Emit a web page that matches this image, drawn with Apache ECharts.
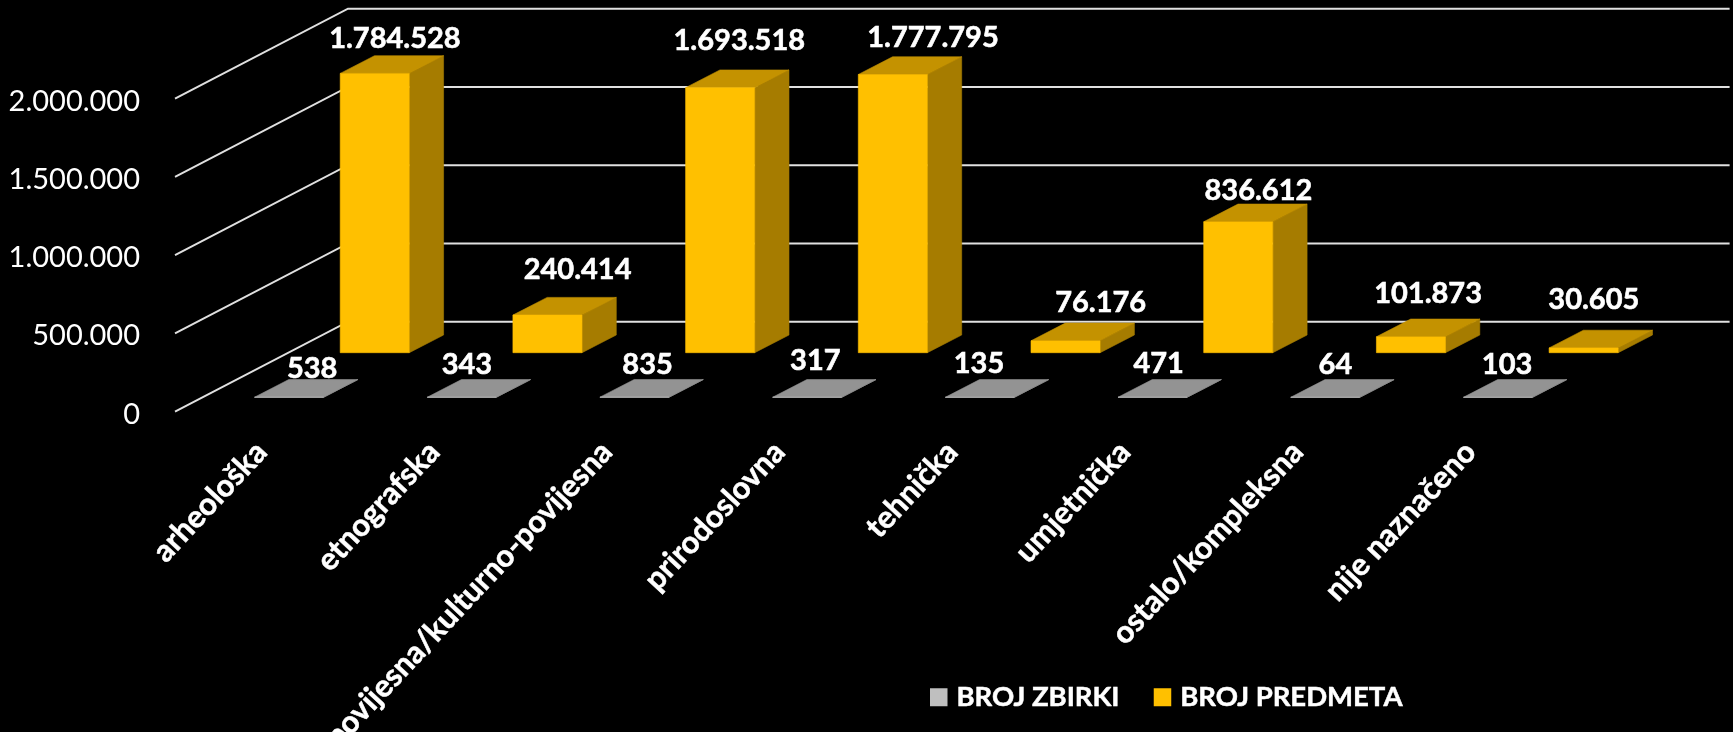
<!DOCTYPE html>
<html>
<head>
<meta charset="utf-8">
<style>html,body{margin:0;padding:0;background:#000}#c{width:1733px;height:732px}</style>
<script src="https://cdn.jsdelivr.net/npm/echarts@6/dist/echarts.min.js"></script>
</head>
<body>
<div id="c"></div>
<script>
var categories = ['arheološka','etnografska','povijesna/kulturno-povijesna','prirodoslovna','tehnička','umjetnička','ostalo/kompleksna','nije naznačeno'];
var brojZbirki = [538,343,835,317,135,471,64,103];
var brojPredmeta = [1784528,240414,1693518,1777795,76176,836612,101873,30605];
var tickValues = [0,500000,1000000,1500000,2000000];

// label placement tweaks (px), separate from the data
var zbirkiNudge = [[6,-20],[-12,-24],[-4,-24],[-9,-28],[-18,-25],[-11,-25],[-7,-24],[-8,-24]];
var predmetaNudge = [[3,-17],[13,-28],[2,-29],[23,-19],[18,-20],[3,-13],[0,-25],[-7,-31]];

var WALL = {dx:173, dy:-90};
var BAR = {dx:34.3, dy:-17.7};
var ROW_GRAY = {dx:27.7, dy:-14.4};
var ROW_GOLD = {dx:113.4, dy:-59};
var FONT_BOLD = 'bold 29px Lato';
function fmt(v){return String(v).replace(/\B(?=(\d{3})+$)/g,'.');}

function poly(pts, fill){
  return {type:'polygon', shape:{points:pts}, style:{fill:fill, stroke:fill, lineWidth:0.6}};
}
function bar3d(row, cols, nudge){
  return function(params, api){
    var i = api.value(0), v = api.value(1);
    var top = api.coord([i, v]), base = api.coord([i, 0]);
    var w = api.size([1,0])[0]*0.4;
    var x0 = top[0]-w/2+row.dx, x1 = x0+w;
    var yb = base[1]+row.dy, yt = top[1]+row.dy;
    var d = BAR;
    var n = nudge[params.dataIndex];
    return {type:'group', children:[
      poly([[x1,yb],[x1+d.dx,yb+d.dy],[x1+d.dx,yt+d.dy],[x1,yt]], cols.side),
      poly([[x0,yt],[x1,yt],[x1+d.dx,yt+d.dy],[x0+d.dx,yt+d.dy]], cols.top),
      poly([[x0,yb],[x1,yb],[x1,yt],[x0,yt]], cols.front),
      {type:'text', z2:10, style:{
        text:fmt(v), x:(x0+x1+d.dx)/2+n[0], y:yt+(row===ROW_GRAY?d.dy/2:d.dy)+n[1],
        fill:'#fff', stroke:'#fff', lineWidth:0.6, font:FONT_BOLD, align:'center', verticalAlign:'middle'}}
    ]};
  };
}
function wallLine(params, api){
  var c = api.coord([0, api.value(1)]);
  var g = params.coordSys;
  var x0 = g.x, x1 = g.x+g.width;
  return {type:'polyline', shape:{points:[[x0,c[1]],[x0+WALL.dx,c[1]+WALL.dy],[x1+WALL.dx,c[1]+WALL.dy]]},
    style:{fill:'none', stroke:'#e0e0e0', lineWidth:2}};
}
function rows(arr){return arr.map(function(v,i){return [i,v];});}

var chart = echarts.init(document.getElementById('c'));
chart.setOption({
  animation:false,
  backgroundColor:'#000',
  grid:{left:175, top:98.7, width:1381.6, height:313, outerBoundsMode:'none'},
  xAxis:{type:'category', data:categories, axisLine:{show:false}, axisTick:{show:false}, splitLine:{show:false},
    axisLabel:{interval:0, rotate:47, margin:35, color:'#fff', fontFamily:'Lato', fontWeight:'bold', fontSize:31, padding:[24,0,0,0], hideOverlap:false, textBorderColor:'#fff', textBorderWidth:0.5}},
  yAxis:{type:'value', min:0, max:2000000, interval:500000, axisLine:{show:false}, axisTick:{show:false}, splitLine:{show:false},
    axisLabel:{margin:35, color:'#fff', formatter:function(v){return '{t|'+fmt(v)+'}';},
      rich:{t:{color:'#fff', fontFamily:'Lato', fontSize:29, padding:[5,0,0,0]}}}},
  legend:{left:930, top:683, padding:0, itemWidth:17.5, itemHeight:18, itemGap:34, icon:'rect',
    data:['BROJ ZBIRKI','BROJ PREDMETA'],
    textStyle:{color:'#fff', fontFamily:'Lato', fontWeight:'bold', fontSize:27.5, padding:[0,0,0,4], textBorderColor:'#fff', textBorderWidth:0.5}},
  series:[
    {type:'custom', name:'grid', z:1, silent:true, clip:false, data:rows(tickValues).map(function(r){return [0,r[1]];}), renderItem:wallLine, encode:{x:0,y:1}},
    {type:'custom', name:'BROJ ZBIRKI', z:2, clip:false, itemStyle:{color:'#BFBFBF'}, data:rows(brojZbirki), encode:{x:0,y:1},
      renderItem:bar3d(ROW_GRAY,{front:'#BFBFBF',side:'#7f7f7f',top:'#939393'},zbirkiNudge)},
    {type:'custom', name:'BROJ PREDMETA', z:3, clip:false, itemStyle:{color:'#FFC000'}, data:rows(brojPredmeta), encode:{x:0,y:1},
      renderItem:bar3d(ROW_GOLD,{front:'#FFC000',side:'#A67C00',top:'#C49200'},predmetaNudge)}
  ]
});
</script>
</body>
</html>
